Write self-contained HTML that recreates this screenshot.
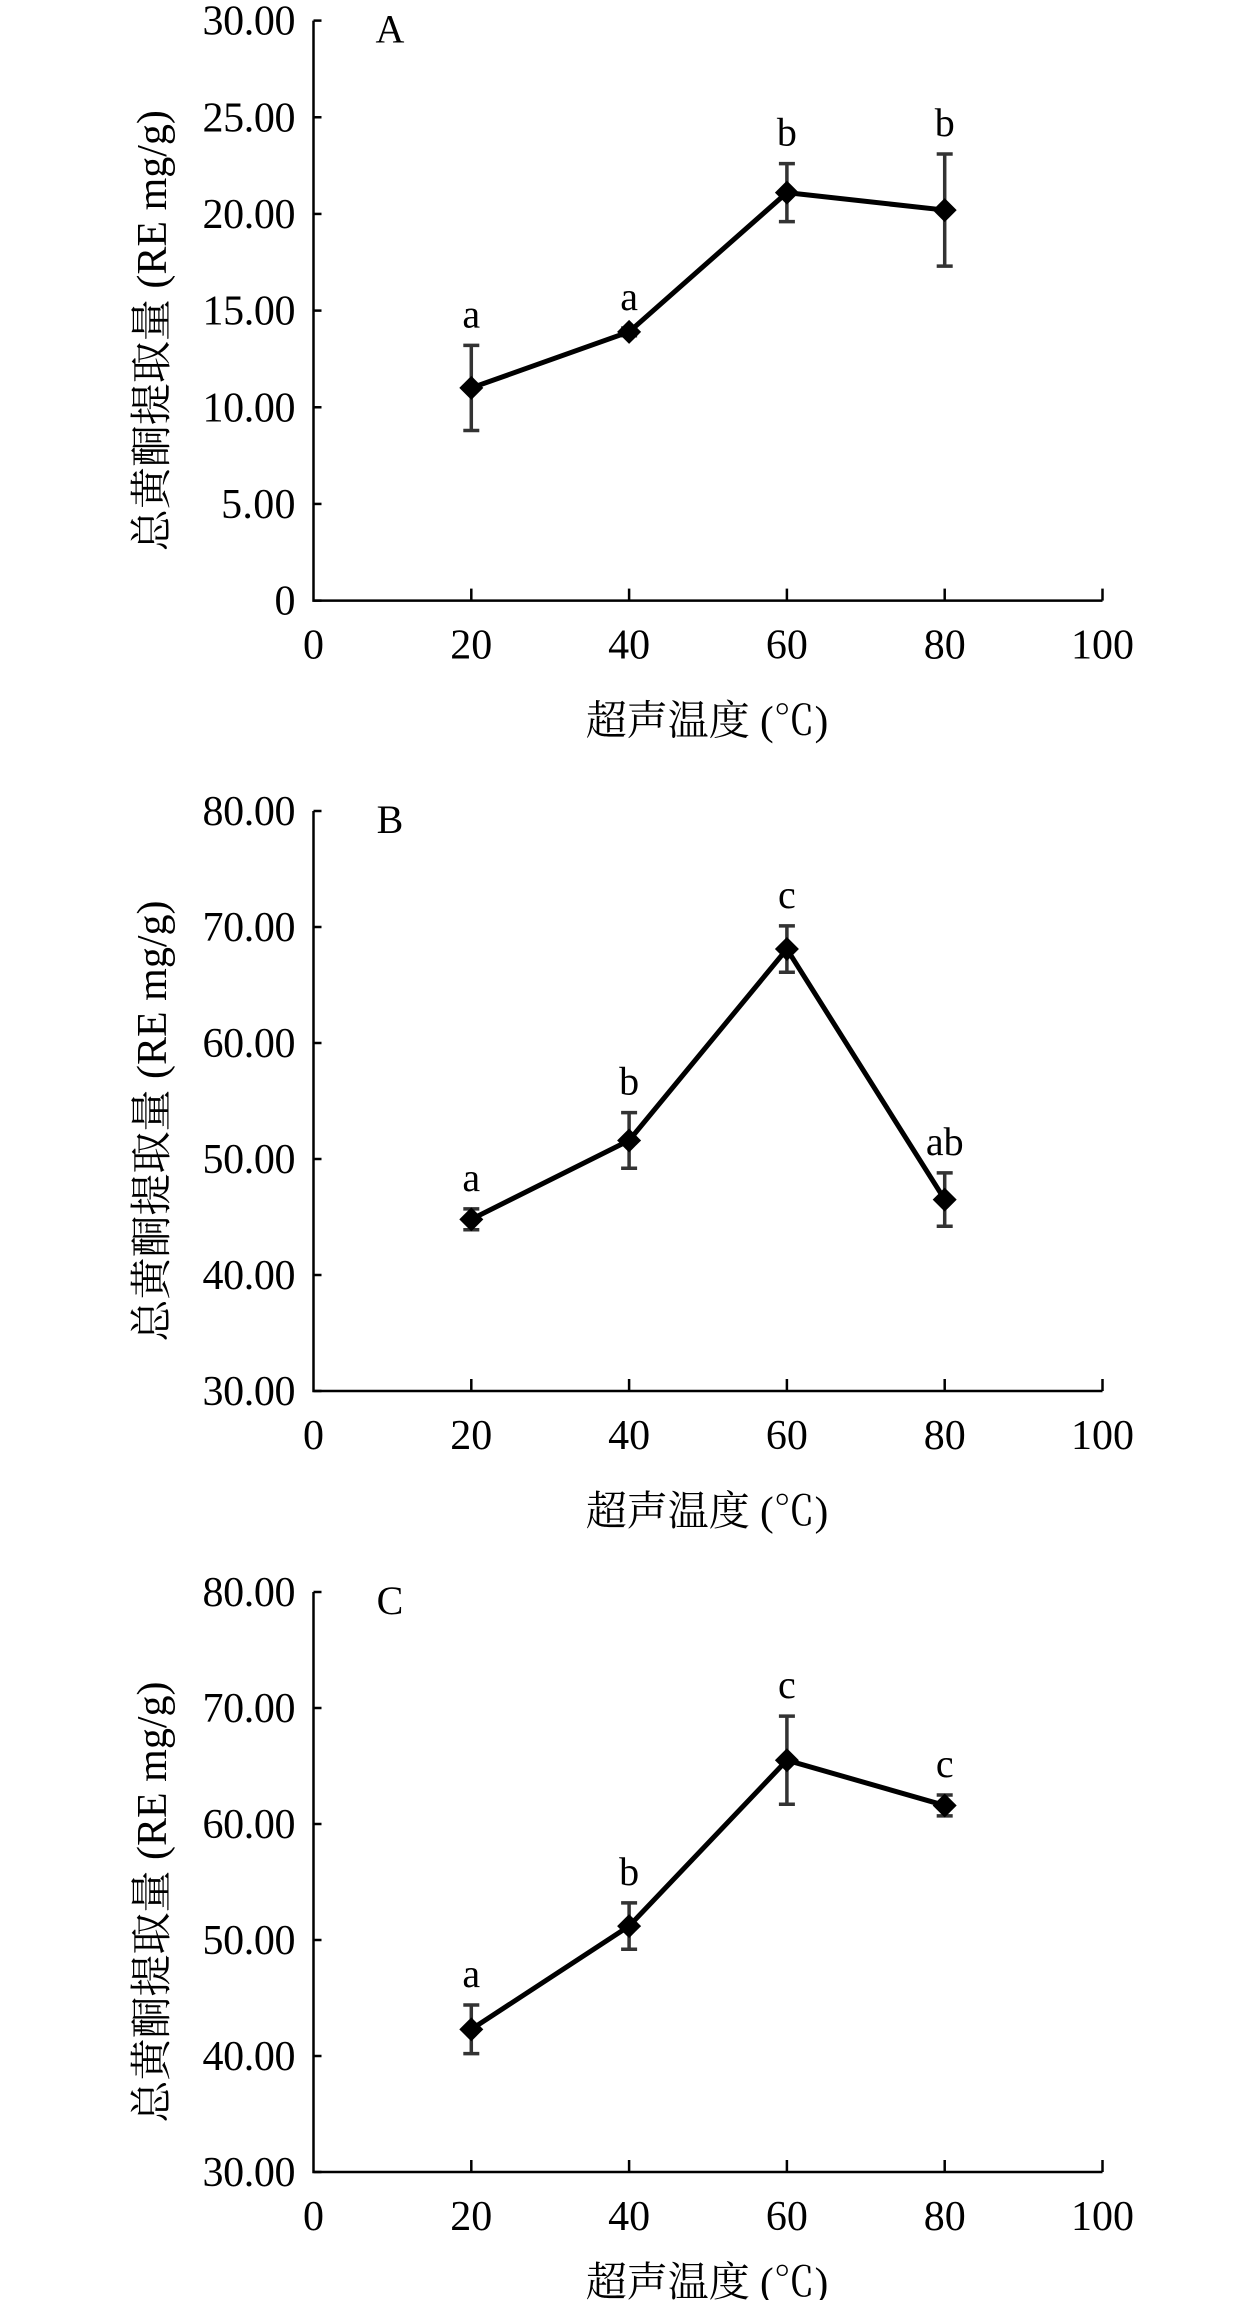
<!DOCTYPE html>
<html><head><meta charset="utf-8">
<style>
html,body{margin:0;padding:0;background:#fff;}
svg{display:block;}
text{font-family:"Liberation Serif","Noto Serif CJK SC","Noto Sans CJK SC",serif;fill:#000;}
</style></head>
<body>
<svg id="fig" width="1260" height="2300" viewBox="0 0 1260 2300" xmlns="http://www.w3.org/2000/svg"></svg>
<script>
const temps = [20, 40, 60, 80];
const xTicks = [0, 20, 40, 60, 80, 100];
const meanA = [11.0, 13.9, 21.1, 20.2];
const errA = [2.2, 0.2, 1.5, 2.9];
const sigA = ["a", "a", "b", "b"];
const yTicksA = ["0", "5.00", "10.00", "15.00", "20.00", "25.00", "30.00"];
const meanB = [44.8, 51.6, 68.1, 46.5];
const errB = [0.9, 2.4, 2.0, 2.3];
const sigB = ["a", "b", "c", "ab"];
const yTicksB = ["30.00", "40.00", "50.00", "60.00", "70.00", "80.00"];
const meanC = [42.3, 51.2, 65.5, 61.6];
const errC = [2.1, 2.0, 3.8, 0.9];
const sigC = ["a", "b", "c", "c"];
const yTicksC = ["30.00", "40.00", "50.00", "60.00", "70.00", "80.00"];

const NS = "http://www.w3.org/2000/svg";
const svg = document.getElementById("fig");
function mk(tag, attrs, parent) {
  const e = document.createElementNS(NS, tag);
  for (const k in attrs) e.setAttribute(k, attrs[k]);
  (parent || svg).appendChild(e);
  return e;
}

function panel(id, top, yTicks, mean, err, sig, letter, titleOff) {
  const L = 313.5, R = 1102.5, T = top, B = top + 580;
  const yMin = parseFloat(yTicks[0]), yMax = parseFloat(yTicks[yTicks.length - 1]);
  const sx = v => L + (v - 0) / 100 * (R - L);
  const sy = v => B - (v - yMin) / (yMax - yMin) * (B - T);
  const g = mk("g", {});
  
  
  const ax = mk("path", {d: `M${L},${T} L${L},${B} L${R},${B}`, fill: "none", stroke: "#000", "stroke-width": 2.5}, g);
  
  
  yTicks.forEach(t => {
    const y = sy(parseFloat(t));
    const tk = mk("line", {x1: L, x2: L + 8, y1: y, y2: y, stroke: "#000", "stroke-width": 2.5}, g);
    
    
    const tx = mk("text", {x: L - 18, y: y + 14, "text-anchor": "end", "font-size": 42}, g);
    if (t.length > 1) tx.setAttribute("textLength", t.length * 18.6);
    tx.textContent = t;
    
    
  });
  xTicks.forEach(t => {
    const x = sx(t);
    if (t > 0) {
      const tk = mk("line", {x1: x, x2: x, y1: B, y2: B - 12, stroke: "#000", "stroke-width": 2.5}, g);
      
      
    }
    const tx = mk("text", {x: x, y: B + 58, "text-anchor": "middle", "font-size": 42}, g);
    tx.textContent = t;
    
    
  });
  const xt = mk("text", {x: 707, y: B + titleOff, "text-anchor": "middle", "font-size": 41}, g);
  xt.textContent = "超声温度 (℃)";
  
  
  const yc = T + 310;
  const yt = mk("text", {x: 0, y: 0, "text-anchor": "middle", "font-size": 42, transform: `translate(166,${yc}) rotate(-90)`}, g);
  yt.textContent = "总黄酮提取量 (RE mg/g)";
  
  
  const lt = mk("text", {x: 390, y: T + 22, "text-anchor": "middle", "font-size": 40}, g);
  lt.textContent = letter;
  
  
  temps.forEach((t, i) => {
    const x = sx(t), y1 = sy(mean[i] + err[i]), y2 = sy(mean[i] - err[i]);
    const eb = mk("path", {d: `M${x},${y1} L${x},${y2} M${x - 8},${y1} L${x + 8},${y1} M${x - 8},${y2} L${x + 8},${y2}`, stroke: "#333", "stroke-width": 3.5, fill: "none"}, g);
    
    
    const st = mk("text", {x: x, y: y1 - 18, "text-anchor": "middle", "font-size": 40}, g);
    st.textContent = sig[i];
    
    
  });
  const pts = temps.map((t, i) => `${sx(t)},${sy(mean[i])}`).join(" ");
  const ln = mk("polyline", {points: pts, fill: "none", stroke: "#000", "stroke-width": 5}, g);
  
  
  temps.forEach((t, i) => {
    const x = sx(t), y = sy(mean[i]), r = 12;
    const mkr = mk("polygon", {points: `${x},${y - r} ${x + r},${y} ${x},${y + r} ${x - r},${y}`, fill: "#000"}, g);
    
    
  });
}
panel("a", 20.6, yTicksA, meanA, errA, sigA, "A", 134);
panel("b", 811, yTicksB, meanB, errB, sigB, "B", 134);
panel("c", 1592, yTicksC, meanC, errC, sigC, "C", 124);
</script>
</body></html>
